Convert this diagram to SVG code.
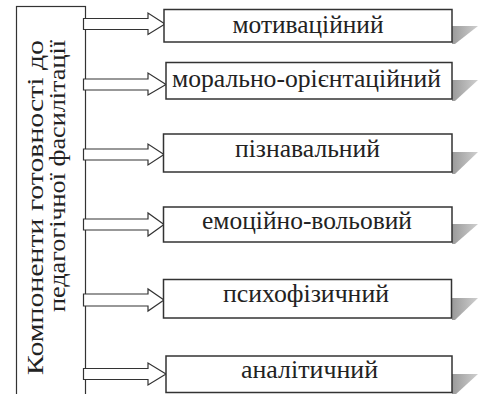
<svg xmlns="http://www.w3.org/2000/svg" width="478" height="394" viewBox="0 0 478 394">
<style>
.bg{fill:#fff}
.box{fill:#fff;stroke:#333;stroke-width:1.5}
.frame{fill:#fff;stroke:#333;stroke-width:1.2}
.arr{fill:#fff;stroke:#333;stroke-width:1.2;stroke-linejoin:miter}
.shadow{fill:url(#sg)}
.t{font-size:25px;fill:#222;text-anchor:middle}
.v{font-size:24px;fill:#222;text-anchor:end}
</style>
<defs>
<linearGradient id="sg" x1="0" y1="0" x2="1" y2="0">
<stop offset="0" stop-color="#9a9a9a"/>
<stop offset="1" stop-color="#cfcfcf"/>
</linearGradient>
</defs>
<rect class="bg" x="0" y="0" width="478" height="394"/>
<g font-family="Liberation Serif, DejaVu Serif, serif">
<g id="main">
<rect class="frame" x="16.5" y="6.5" width="69" height="400"/>
<text class="v" transform="translate(43,40) rotate(-90)" textLength="335" lengthAdjust="spacingAndGlyphs">Компоненти готовності до</text>
<text class="v" transform="translate(65,40) rotate(-90)" textLength="272" lengthAdjust="spacingAndGlyphs">педагогічної фасилітації</text>
</g>
<g id="connectors">
<polygon class="arr" points="83.5,18.5 148,18.5 148,13 165,24 148,34.5 148,29.5 83.5,29.5"/>
<polygon class="arr" points="83.5,79 148,79 148,73 166,84.5 148,95 148,90 83.5,90"/>
<polygon class="arr" points="83.5,149 148,149 148,144 164,154.5 148,165 148,160 83.5,160"/>
<polygon class="arr" points="83.5,219 148,219 148,213 164,224.5 148,236 148,230 83.5,230"/>
<polygon class="arr" points="83.5,294 148,294 148,289 164,300 148,311 148,306 83.5,306"/>
<polygon class="arr" points="83.5,368.5 148,368.5 148,363 166,374 148,385 148,379.5 83.5,379.5"/>
</g>
<g id="n1">
<polygon class="shadow" points="452,26 478,26 455,44 452,44"/>
<rect class="box" x="164" y="9.5" width="288" height="32.5"/>
<text class="t" x="308" y="33" textLength="151" lengthAdjust="spacingAndGlyphs">мотиваційний</text>
</g>
<g id="n2">
<polygon class="shadow" points="452,80 478,80 455,101 452,101"/>
<rect class="box" x="166" y="62.5" width="286" height="36.5"/>
<text class="t" x="306.5" y="87" textLength="269" lengthAdjust="spacingAndGlyphs">морально-орієнтаційний</text>
</g>
<g id="n3">
<polygon class="shadow" points="452,152 478,152 455,174 452,174"/>
<rect class="box" x="163.5" y="134" width="288.5" height="38"/>
<text class="t" x="307.5" y="156.5" textLength="145" lengthAdjust="spacingAndGlyphs">пізнавальний</text>
</g>
<g id="n4">
<polygon class="shadow" points="452,224 478,224 455,244 452,244"/>
<rect class="box" x="163.5" y="207" width="288.5" height="35"/>
<text class="t" x="307" y="229" textLength="210" lengthAdjust="spacingAndGlyphs">емоційно-вольовий</text>
</g>
<g id="n5">
<polygon class="shadow" points="452,298 478,298 455,320 452,320"/>
<rect class="box" x="163.5" y="279.5" width="288" height="38.5"/>
<text class="t" x="306" y="302" textLength="166" lengthAdjust="spacingAndGlyphs">психофізичний</text>
</g>
<g id="n6">
<polygon class="shadow" points="452,374 478,374 455,395 452,395"/>
<rect class="box" x="166" y="356" width="286" height="36.5"/>
<text class="t" x="309.5" y="378" textLength="137" lengthAdjust="spacingAndGlyphs">аналітичний</text>
</g>
</g>
</svg>
